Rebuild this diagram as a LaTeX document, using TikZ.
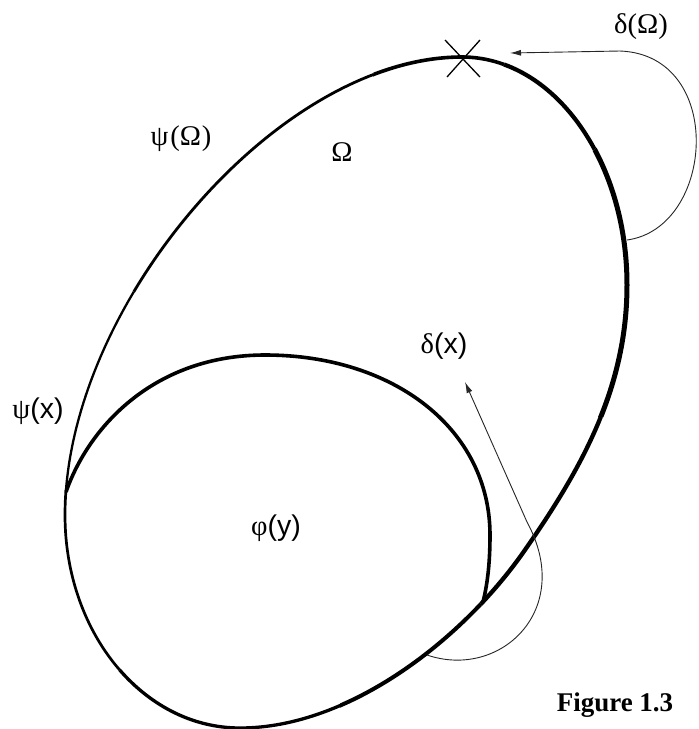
\documentclass[tikz,border=0pt]{standalone}
\usepackage{fontspec}
\setmainfont{Liberation Sans}
\newfontfamily\serifgr{Liberation Serif}
\usetikzlibrary{arrows.meta}
\newcommand\outerloop[1]{\draw[#1] (462,57) .. controls (553,57) and (627,159) .. (627,285) .. controls (627,385) and (584,465) .. (527,547) .. controls (465,638) and (350,728) .. (240,728) .. controls (143,728) and (65,633) .. (65,515) .. controls (65,307) and (277,57) .. cycle;}
\begin{document}
\begin{tikzpicture}[x=1pt,y=-1pt,
  lbl/.style={inner sep=0pt,font=\fontsize{28.5}{32}\selectfont},
  thinarrow/.style={line width=0.9pt,draw=black!85,-{Latex[length=11pt,width=6pt]}},
  innerline/.style={line width=3.6pt},
  xmarkline/.style={line width=1.3pt}]
\useasboundingbox[fill=white] (0,0) rectangle (699,729);
% outer boundary, thickness varying by sector
\coordinate (c) at (350,390);
\begin{scope}\clip (c) -- (419,-549) -- (809,-579) -- cycle; \outerloop{line width=3.6pt}\end{scope}
\begin{scope}\clip (c) -- (809,-579) -- (1091,-339) -- cycle; \outerloop{line width=4.2pt}\end{scope}
\begin{scope}\clip (c) -- (1091,-339) -- (1100,471) -- cycle; \outerloop{line width=5pt}\end{scope}
\begin{scope}\clip (c) -- (1100,471) -- (740,1029) -- cycle; \outerloop{line width=4.3pt}\end{scope}
\begin{scope}\clip (c) -- (740,1029) -- (320,1341) -- cycle; \outerloop{line width=4pt}\end{scope}
\begin{scope}\clip (c) -- (320,1341) -- (-349,1239) -- cycle; \outerloop{line width=3.3pt}\end{scope}
\begin{scope}\clip (c) -- (-349,1239) -- (-502,690) -- cycle; \outerloop{line width=2.7pt}\end{scope}
\begin{scope}\clip (c) -- (-502,690) -- (-310,90) -- cycle; \outerloop{line width=2.3pt}\end{scope}
\begin{scope}\clip (c) -- (-310,90) -- (419,-549) -- cycle; \outerloop{line width=2.8pt}\end{scope}
% inner boundary
\coordinate (j1) at (66,492);
\coordinate (j2) at (483,602);
\draw[innerline] (j1) .. controls (89,426) and (155,355) .. (265,355) .. controls (395,355) and (490,430) .. (490,535) .. controls (490,560) and (488,582) .. (j2);
% X mark
\coordinate (xa) at (445,40); \coordinate (xb) at (480,77);
\coordinate (xc) at (480,40); \coordinate (xd) at (447,77);
\draw[xmarkline] (xa) -- (xb);
\draw[xmarkline] (xc) -- (xd);
% arrows
\coordinate (dOs) at (627,240); \coordinate (dOc) at (620,51); \coordinate (dOt) at (510,53);
\draw[thinarrow] (dOs) .. controls (715,228) and (726,55) .. (dOc) -- (dOt);
\coordinate (dxs) at (427,655); \coordinate (dxc) at (527,522); \coordinate (dxt) at (465,382);
\draw[thinarrow] (dxs) .. controls (500,680) and (575,610) .. (dxc) -- (dxt);
% labels
\node[lbl] (ldO) at (641,27) {\serifgr δ(Ω)};
\node[lbl] (lpO) at (181,139) {\serifgr ψ\kern2pt(Ω\kern1pt)};
\node[lbl] (lO) at (342,152) {\serifgr Ω};
\node[lbl] (ldx) at (444,346) {{\serifgr δ}(x)};
\node[lbl] (lpx) at (38,411) {{\serifgr ψ}(x)};
\node[lbl] (lfy) at (276,528) {{\serifgr φ}(y)};
\node[inner sep=0pt,anchor=base,font=\serifgr\bfseries\fontsize{27}{31}\selectfont] (fig) at (615,711) {Figure 1.3};
\end{tikzpicture}
\end{document}
